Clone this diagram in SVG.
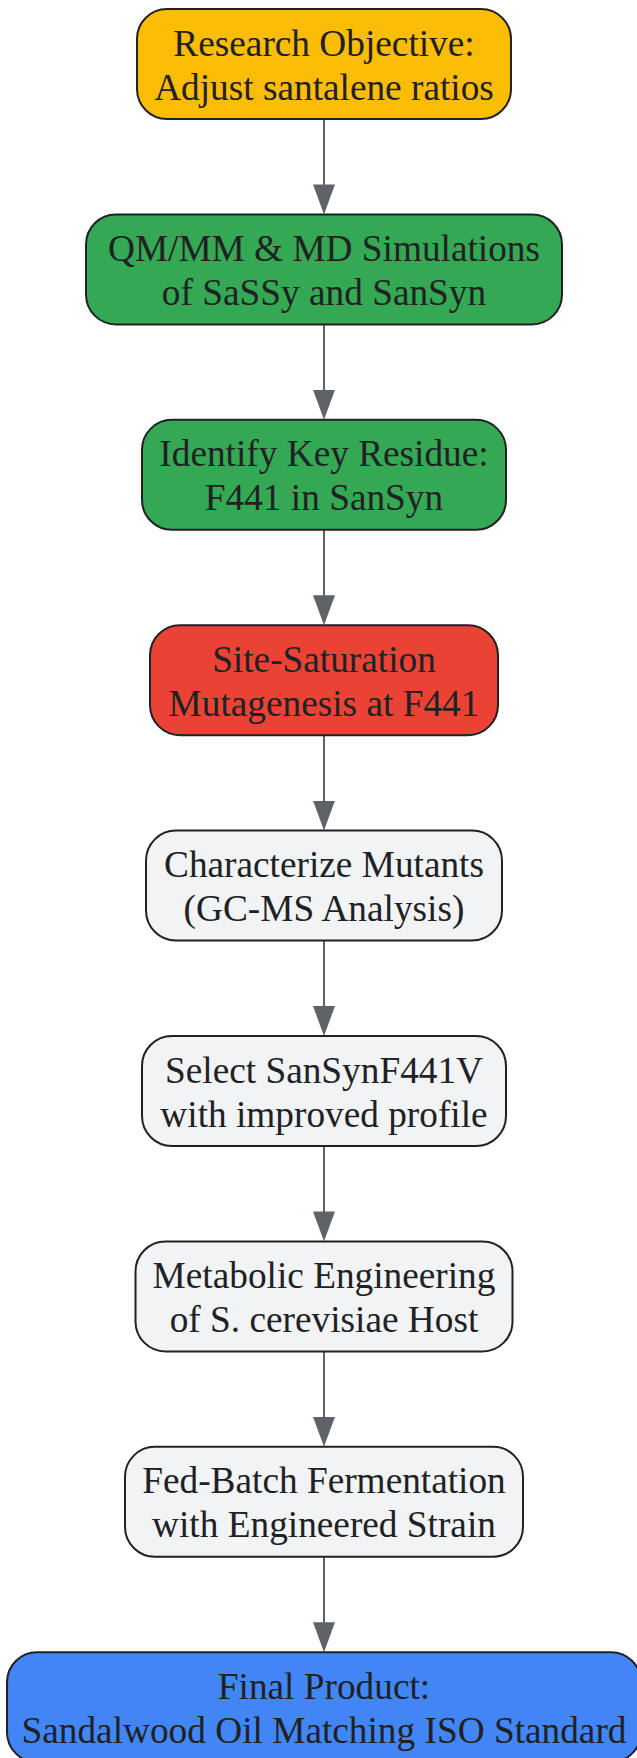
<svg xmlns="http://www.w3.org/2000/svg" width="637" height="1758" viewBox="0 0 637 1758">
<style>
.box{stroke:#202124;stroke-width:2}
.t{font-family:"Liberation Serif","Times New Roman",serif;font-size:37.3px;fill:#202124;text-anchor:middle}
.edge{stroke:#5F6368;stroke-width:2;fill:none}
</style>
<defs>
<marker id="ah" viewBox="0 0 30 22" refX="15" refY="11" markerWidth="30" markerHeight="22" markerUnits="userSpaceOnUse" orient="auto">
<path d="M0,0 L30,11 L0,22 z" fill="#5F6368"/>
</marker>
</defs>
<rect width="637" height="1758" fill="#ffffff"/>
<g id="connectors">
<line class="edge" x1="324" y1="119" x2="324" y2="199.4" marker-end="url(#ah)"/>
<line class="edge" x1="324" y1="324.4" x2="324" y2="404.8" marker-end="url(#ah)"/>
<line class="edge" x1="324" y1="529.8" x2="324" y2="610.2" marker-end="url(#ah)"/>
<line class="edge" x1="324" y1="735.2" x2="324" y2="815.6" marker-end="url(#ah)"/>
<line class="edge" x1="324" y1="940.6" x2="324" y2="1021" marker-end="url(#ah)"/>
<line class="edge" x1="324" y1="1146" x2="324" y2="1226.4" marker-end="url(#ah)"/>
<line class="edge" x1="324" y1="1351.4" x2="324" y2="1431.8" marker-end="url(#ah)"/>
<line class="edge" x1="324" y1="1556.8" x2="324" y2="1637.2" marker-end="url(#ah)"/>
</g>
<g id="n1">
<rect class="box" x="137" y="9" width="374" height="110" rx="30" fill="#FBBC04"/>
<text class="t" x="324" y="55.5">Research Objective:</text>
<text class="t" x="324" y="99.5">Adjust santalene ratios</text>
</g>
<g id="n2">
<rect class="box" x="86" y="214.4" width="476" height="110" rx="30" fill="#34A853"/>
<text class="t" x="324" y="260.9">QM/MM &amp; MD Simulations</text>
<text class="t" x="324" y="304.9">of SaSSy and SanSyn</text>
</g>
<g id="n3">
<rect class="box" x="142" y="419.8" width="364" height="110" rx="30" fill="#34A853"/>
<text class="t" x="324" y="466.3">Identify Key Residue:</text>
<text class="t" x="324" y="510.3">F441 in SanSyn</text>
</g>
<g id="n4">
<rect class="box" x="150" y="625.2" width="348" height="110" rx="30" fill="#EA4335"/>
<text class="t" x="324" y="671.7">Site-Saturation</text>
<text class="t" x="324" y="715.7">Mutagenesis at F441</text>
</g>
<g id="n5">
<rect class="box" x="146" y="830.6" width="356" height="110" rx="30" fill="#F1F3F4"/>
<text class="t" x="324" y="877.1">Characterize Mutants</text>
<text class="t" x="324" y="921.1">(GC-MS Analysis)</text>
</g>
<g id="n6">
<rect class="box" x="142" y="1036" width="364" height="110" rx="30" fill="#F1F3F4"/>
<text class="t" x="324" y="1082.5">Select SanSynF441V</text>
<text class="t" x="324" y="1126.5">with improved profile</text>
</g>
<g id="n7">
<rect class="box" x="135.5" y="1241.4" width="377" height="110" rx="30" fill="#F1F3F4"/>
<text class="t" x="324" y="1287.9">Metabolic Engineering</text>
<text class="t" x="324" y="1331.9">of S. cerevisiae Host</text>
</g>
<g id="n8">
<rect class="box" x="125" y="1446.8" width="398" height="110" rx="30" fill="#F1F3F4"/>
<text class="t" x="324" y="1493.3">Fed-Batch Fermentation</text>
<text class="t" x="324" y="1537.3">with Engineered Strain</text>
</g>
<g id="n9">
<rect class="box" x="7" y="1652.2" width="634" height="110" rx="30" fill="#4285F4"/>
<text class="t" x="324" y="1698.7">Final Product:</text>
<text class="t" x="324" y="1742.7">Sandalwood Oil Matching ISO Standard</text>
</g>
</svg>
